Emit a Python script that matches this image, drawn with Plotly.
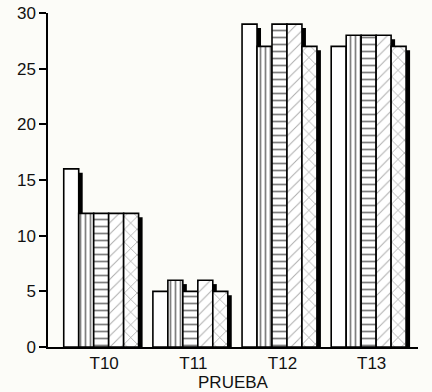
import plotly.graph_objects as go

# values
categories = ["T10", "T11", "T12", "T13"]
serie_blanca = [16, 5, 29, 27]
serie_vertical = [12, 6, 27, 28]
serie_horizontal = [12, 5, 29, 28]
serie_diagonal = [12, 6, 29, 28]
serie_chevron = [12, 5, 27, 27]

series = [serie_blanca, serie_vertical, serie_horizontal, serie_diagonal, serie_chevron]
patterns = [
    dict(shape=""),
    dict(shape="|", size=5, solidity=0.35, fgcolor="black", bgcolor="white"),
    dict(shape="-", size=7, solidity=0.25, fgcolor="black", bgcolor="white"),
    dict(shape="/", size=8, solidity=0.12, fgcolor="#555", bgcolor="white"),
    dict(shape="x", size=9, solidity=0.12, fgcolor="black", bgcolor="white"),
]

PX = 89.3          # pixels per category unit
BAR_W = 15 / PX
START = -40.5 / PX
SH_DX = 4 / PX
SH_DY = 0.35

x = list(range(len(categories)))
fig = go.Figure()

# drop shadows first so the next bar covers them
for k, vals in enumerate(series):
    fig.add_trace(go.Bar(
        x=x, y=[v - SH_DY for v in vals],
        width=BAR_W, offset=START + k * BAR_W + SH_DX,
        marker=dict(color="black", line=dict(width=0)),
        showlegend=False, hoverinfo="skip",
    ))

for k, vals in enumerate(series):
    fig.add_trace(go.Bar(
        x=x, y=vals,
        width=BAR_W, offset=START + k * BAR_W,
        marker=dict(color="white", pattern=patterns[k],
                    line=dict(color="black", width=1.6)),
        showlegend=False,
    ))

fig.update_layout(
    width=432, height=392,
    margin=dict(l=48, r=14, t=13, b=45),
    barmode="overlay",
    paper_bgcolor="#fcfcf8", plot_bgcolor="#fcfcf8",
    font=dict(family="Liberation Sans, Arial, sans-serif", size=17, color="#111"),
    xaxis=dict(
        range=[-0.63, 3.52], tickvals=x, ticktext=categories,
        showline=True, linecolor="black", linewidth=1.5,
        ticks="", showgrid=False, zeroline=False, automargin=False,
        title=dict(text="PRUEBA", standoff=0, font=dict(size=17)),
    ),
    yaxis=dict(
        range=[0, 30], tickvals=[0, 5, 10, 15, 20, 25, 30],
        showline=True, linecolor="black", linewidth=1.5,
        ticks="outside", ticklen=7, tickcolor="black", tickwidth=1.5,
        showgrid=False, zeroline=False, automargin=False,
        ticklabeloverflow="allow",
    ),
)

# drop the default body margin so the figure fills the window
fig.write_html("out.html", config={"displayModeBar": False},
               post_script="document.body.style.margin='0';")
